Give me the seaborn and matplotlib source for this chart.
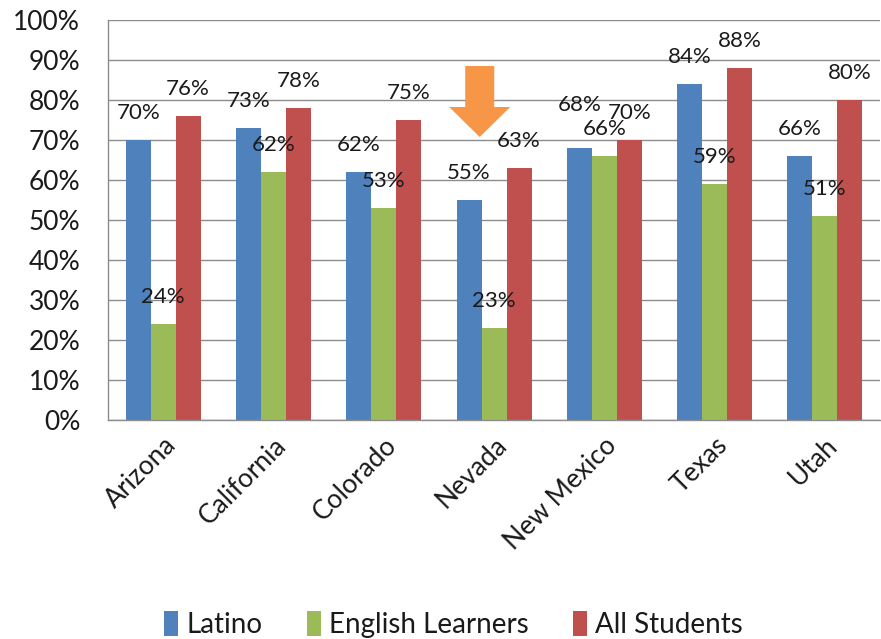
import matplotlib
matplotlib.use("Agg")
import matplotlib.pyplot as plt
from matplotlib.patches import FancyArrow
import pandas as pd
import seaborn as sns

states = ["Arizona", "California", "Colorado", "Nevada", "New Mexico", "Texas", "Utah"]
groups = ["Latino", "English Learners", "All Students"]
latino = [70, 73, 62, 55, 68, 84, 66]
english_learners = [24, 62, 53, 23, 66, 59, 51]
all_students = [76, 78, 75, 63, 70, 88, 80]
colors = ["#4F81BD", "#9BBB59", "#C0504D"]

rows = []
for g, vals in zip(groups, [latino, english_learners, all_students]):
    for s, v in zip(states, vals):
        rows.append({"state": s, "group": g, "value": v})
df = pd.DataFrame(rows)

sns.set_style("white")
plt.rcParams["font.family"] = ["Lato", "DejaVu Sans"]
plt.rcParams["text.color"] = "#1a1a1a"

fig = plt.figure(figsize=(8.81, 6.39), dpi=100)
ax = fig.add_axes([108 / 881, 1 - 420 / 639, 1 - 108 / 881 - 0.001, 400 / 639])

sns.barplot(data=df, x="state", y="value", hue="group", order=states,
            hue_order=groups, palette=colors, width=0.68, gap=0,
            saturation=1, ax=ax, legend=True, edgecolor="none")

for k, cont in enumerate(ax.containers):
    pads = []
    for i, b in enumerate(cont):
        # lift the Latino label when the green bar next to it is almost as tall
        close = k == 0 and 0 <= latino[i] - english_learners[i] < 6
        pads.append(24 if close else 12)
    for b, p in zip(cont, pads):
        ax.annotate(f"{int(b.get_height())}%",
                    (b.get_x() + b.get_width() / 2, b.get_height()),
                    xytext=(0, p), textcoords="offset points",
                    ha="center", va="bottom", fontsize=16, color="#1a1a1a")

ax.set_ylim(0, 100)
ax.set_xlim(-0.5, len(states) - 0.5)
ax.set_yticks(range(0, 101, 10))
ax.set_yticklabels([f"{t}%" for t in range(0, 101, 10)], fontsize=19, color="#1a1a1a")
ax.set_xticks(range(len(states)))
ax.set_xticklabels(states, rotation=45, ha="right", rotation_mode="anchor",
                   fontsize=19, color="#1a1a1a")
ax.tick_params(axis="both", length=0)
ax.tick_params(axis="y", pad=20)
ax.tick_params(axis="x", pad=9)
ax.set_xlabel("")
ax.set_ylabel("")
ax.yaxis.grid(True, color="#8c8c8c", linewidth=1)
ax.set_axisbelow(True)
for side in ["top", "right"]:
    ax.spines[side].set_visible(False)
for side in ["left", "bottom"]:
    ax.spines[side].set_color("#8c8c8c")
    ax.spines[side].set_linewidth(1)

# orange arrow pointing at Nevada
nv = states.index("Nevada")
ax.add_patch(FancyArrow(nv - 0.13, 88.5, 0, -17.75, width=0.263, head_width=0.553,
                        head_length=7.5, length_includes_head=True,
                        color="#F79646", linewidth=0, zorder=5))

handles, labels = ax.get_legend_handles_labels()
ax.get_legend().remove()
fig.legend(handles, labels, loc="lower center", ncol=3, frameon=False,
           fontsize=20, handlelength=0.5, handleheight=1.0, handletextpad=0.3,
           columnspacing=1.6, bbox_to_anchor=(0.515, -0.037))

fig.savefig("out.png", dpi=100)
